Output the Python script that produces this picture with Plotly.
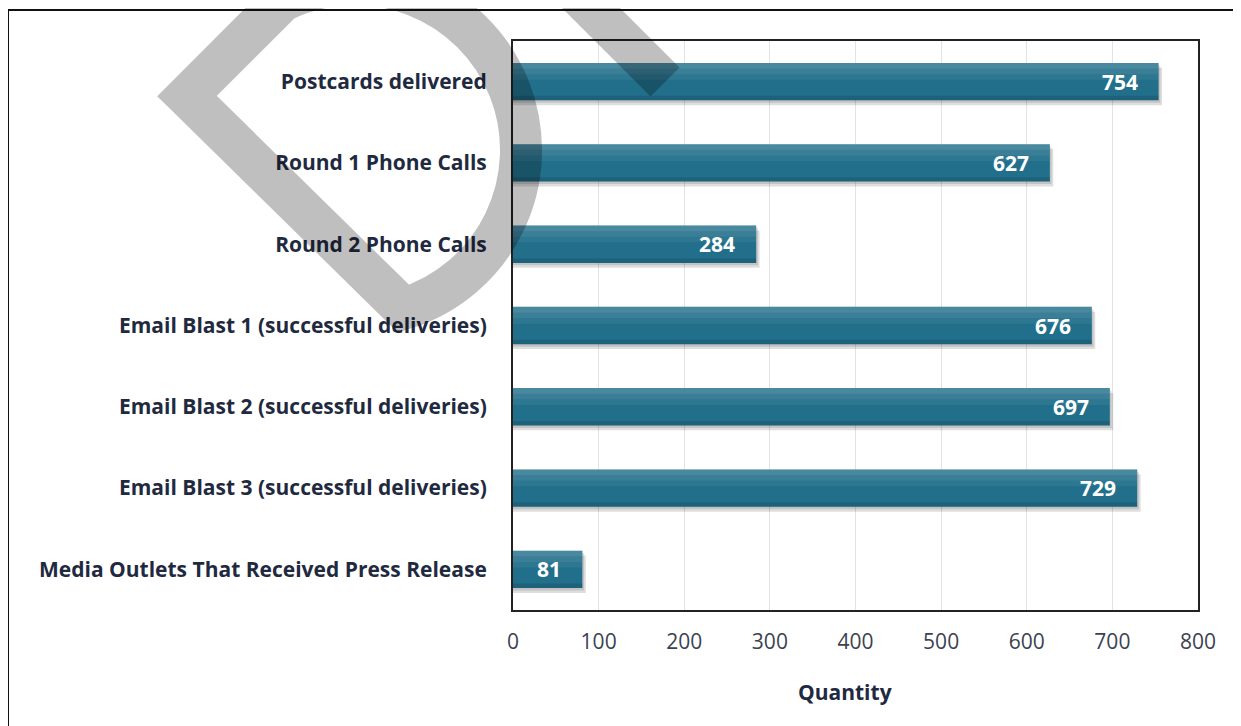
import math
import plotly.graph_objects as go

categories = [
    "Postcards delivered",
    "Round 1 Phone Calls",
    "Round 2 Phone Calls",
    "Email Blast 1 (successful deliveries)",
    "Email Blast 2 (successful deliveries)",
    "Email Blast 3 (successful deliveries)",
    "Media Outlets That Received Press Release",
]
values = [754, 627, 284, 676, 697, 729, 81]
x_ticks = [0, 100, 200, 300, 400, 500, 600, 700, 800]
x_title = "Quantity"

# page geometry (pixels); the page body has an 8px margin
OFF = 8
W, H = 1241 - OFF, 726 - OFF
L, R, T, B = 513 - OFF, 1198 - OFF, 41 - OFF, 610 - OFF
PW, PH = R - L, B - T

FONT = "Open Sans"


def px(xp):
    return (xp - OFF - L) / PW


def py(yp):
    return (B - (yp - OFF)) / PH


def fmt(pt):
    return f"{px(pt[0]):.4f},{py(pt[1]):.4f}"


def arc_path(cx, cy, r, a0, a1, nseg=4):
    """cubic bezier segments approximating a circular arc (angles in degrees, screen coords)"""
    out = []
    da = (a1 - a0) / nseg
    k = 4 / 3 * math.tan(math.radians(da) / 4) * r
    for i in range(nseg):
        t0 = math.radians(a0 + i * da)
        t1 = math.radians(a0 + (i + 1) * da)
        p0 = (cx + r * math.cos(t0), cy + r * math.sin(t0))
        p3 = (cx + r * math.cos(t1), cy + r * math.sin(t1))
        c1 = (p0[0] - k * math.sin(t0), p0[1] + k * math.cos(t0))
        c2 = (p3[0] + k * math.sin(t1), p3[1] - k * math.cos(t1))
        out.append("C " + " ".join(fmt(p) for p in (c1, c2, p3)))
    return " ".join(out)


BW = 0.46
fig = go.Figure()

# shadow
fig.add_trace(go.Bar(
    y=categories, x=[v + 4 for v in values], orientation="h",
    width=BW, offset=-BW / 2 + 0.06,
    marker=dict(color="rgba(0,0,0,0.13)", line=dict(width=0)),
    hoverinfo="skip", showlegend=False,
))
fig.add_trace(go.Bar(
    y=categories, x=[v + 2 for v in values], orientation="h",
    width=BW, offset=-BW / 2 + 0.03,
    marker=dict(color="rgba(0,0,0,0.12)", line=dict(width=0)),
    hoverinfo="skip", showlegend=False,
))
# main bars
fig.add_trace(go.Bar(
    y=categories, x=values, orientation="h",
    width=BW, offset=-BW / 2,
    marker=dict(color="#216f8b", line=dict(width=0)),
    showlegend=False,
))
# top highlight (soft gradient)
for frac, alpha in [(0.45, 0.06), (0.3, 0.06), (0.15, 0.08)]:
    fig.add_trace(go.Bar(
        y=categories, x=values, orientation="h",
        width=BW * frac, offset=-BW / 2,
        marker=dict(color=f"rgba(255,255,255,{alpha})", line=dict(width=0)),
        hoverinfo="skip", showlegend=False,
    ))
# bottom darker edge
fig.add_trace(go.Bar(
    y=categories, x=values, orientation="h",
    width=BW * 0.12, offset=BW / 2 - BW * 0.12,
    marker=dict(color="rgba(0,0,0,0.12)", line=dict(width=0)),
    hoverinfo="skip", showlegend=False,
))

for c, v in zip(categories, values):
    fig.add_annotation(
        x=v, y=c, xref="x", yref="y", text=str(v), showarrow=False,
        xanchor="right", xshift=-19,
        font=dict(family=FONT, size=21, color="white", weight="bold"),
    )

fig.add_annotation(
    x=px(845), y=py(692), xref="paper", yref="paper", text=x_title, showarrow=False,
    xanchor="center", yanchor="middle",
    font=dict(family=FONT, size=21, color="#1f2a40", weight="bold"),
)

shapes = []
# outer frame
shapes.append(dict(type="rect", xref="paper", yref="paper",
                   x0=px(8), y0=py(760), x1=px(1270), y1=py(10),
                   line=dict(color="#111111", width=2), layer="below"))
# watermark outline
cx, cy, rr = 355, 150, 166
a_start = 73.0
bx = cx + rr * math.cos(math.radians(a_start))
by = cy + rr * math.sin(math.radians(a_start))
wm = ("M " + fmt((187, 96)) + " L " + fmt((bx, by)) + " "
      + arc_path(cx, cy, rr, a_start, -116.0, nseg=4) + " Z")
shapes.append(dict(type="path", xref="paper", yref="paper", path=wm,
                   line=dict(color="rgba(0,0,0,0.25)", width=42), layer="above"))
shapes.append(dict(type="line", xref="paper", yref="paper",
                   x0=px(665), y0=py(82), x1=px(570), y1=py(-13),
                   line=dict(color="rgba(0,0,0,0.25)", width=41), layer="above"))

fig.update_layout(
    width=W, height=H,
    margin=dict(l=L, r=W - R, t=T, b=H - B, pad=0),
    paper_bgcolor="white", plot_bgcolor="white",
    barmode="overlay",
    shapes=shapes,
    xaxis=dict(
        range=[0, 800], tickvals=x_ticks, ticktext=[str(t) for t in x_ticks],
        showgrid=True, gridcolor="#e3e3e3", gridwidth=1,
        zeroline=False, showline=True, linecolor="#222222", linewidth=2, mirror=True,
        ticks="", ticklabelstandoff=12,
        tickfont=dict(family=FONT, size=21, color="#3b4252"),
        fixedrange=True,
    ),
    yaxis=dict(
        categoryorder="array", categoryarray=categories, autorange="reversed",
        showgrid=False, zeroline=False, showline=True, linecolor="#222222",
        linewidth=2, mirror=True, ticks="", ticklabelstandoff=20,
        tickfont=dict(family=FONT, size=21, color="#1f2a40", weight="bold"),
        fixedrange=True,
    ),
    showlegend=False,
)

fig.write_html("out.html")
